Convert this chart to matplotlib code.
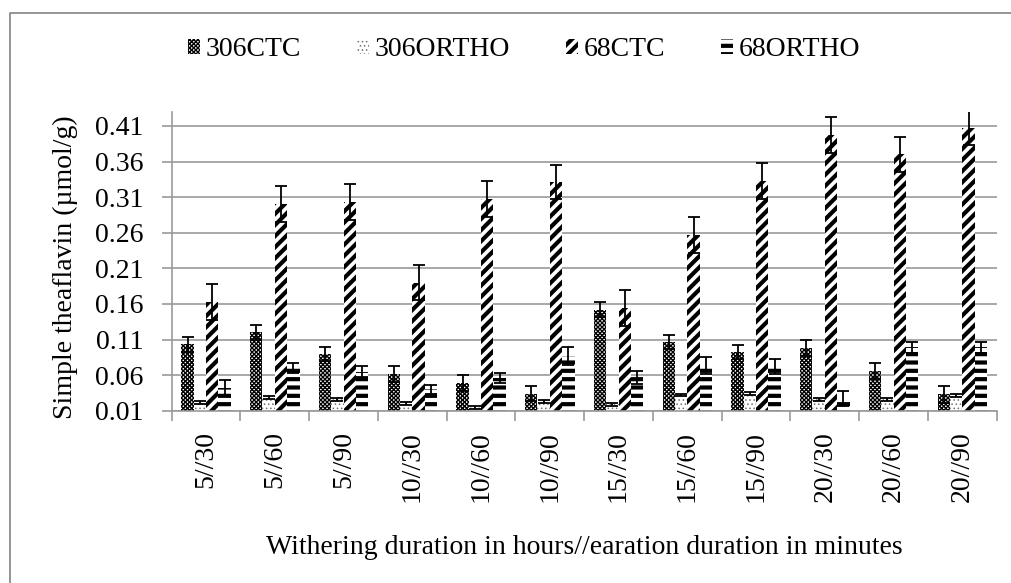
import numpy as np
import matplotlib
matplotlib.use("Agg")
import matplotlib.pyplot as plt
from matplotlib.lines import Line2D

plt.rcParams['font.family'] = ['Liberation Serif', 'DejaVu Serif']

# Withering (h) // aeration (min) combinations
categories = ['5//30', '5//60', '5//90', '10//30', '10//60', '10//90',
              '15//30', '15//60', '15//90', '20//30', '20//60', '20//90']

series_names = ['306CTC', '306ORTHO', '68CTC', '68ORTHO']

ctc_306 = [0.103, 0.120, 0.090, 0.062, 0.049, 0.034, 0.152, 0.106, 0.092, 0.098, 0.066, 0.033]
ctc_306_err = [0.011, 0.010, 0.010, 0.011, 0.011, 0.010, 0.011, 0.010, 0.010, 0.011, 0.011, 0.012]

ortho_306 = [0.021, 0.028, 0.026, 0.020, 0.015, 0.023, 0.019, 0.032, 0.034, 0.026, 0.026, 0.031]
ortho_306_err = [0.002, 0.002, 0.002, 0.002, 0.002, 0.002, 0.002, 0.002, 0.002, 0.002, 0.002, 0.002]

ctc_68 = [0.163, 0.300, 0.303, 0.190, 0.307, 0.331, 0.154, 0.257, 0.333, 0.397, 0.370, 0.407]
ctc_68_err = [0.025, 0.025, 0.025, 0.025, 0.025, 0.024, 0.025, 0.025, 0.025, 0.025, 0.025, 0.024]

ortho_68 = [0.042, 0.070, 0.065, 0.040, 0.056, 0.087, 0.057, 0.074, 0.072, 0.027, 0.099, 0.099]
ortho_68_err = [0.011, 0.007, 0.008, 0.006, 0.007, 0.013, 0.009, 0.012, 0.011, 0.011, 0.008, 0.008]

yticks = [0.01, 0.06, 0.11, 0.16, 0.21, 0.26, 0.31, 0.36, 0.41]

values = [ctc_306, ortho_306, ctc_68, ortho_68]
errors = [ctc_306_err, ortho_306_err, ctc_68_err, ortho_68_err]

# pattern fills (hatch, hatch colour, hatch width)
styles = [('xxxxxxxx', 'black', 1.0),
          ('....', '#707070', 0.6),
          ('///', 'black', 3.0),
          ('--', 'black', 3.0)]

FS = 20
W, H = 1011, 583
fig = plt.figure(figsize=(W / 100, H / 100), dpi=100)
ax = fig.add_axes([171.7 / W, 1 - 410.7 / H, 825 / W, (410.7 - 111.7) / H])

x = np.arange(len(categories))
bw = 0.18
offsets = [-1.5 * bw, -0.5 * bw, 0.5 * bw, 1.5 * bw]

handles = []
for vals, errs, off, (hatch, hcol, hlw), name in zip(values, errors, offsets, styles, series_names):
    with plt.rc_context({'hatch.linewidth': hlw}):
        bars = ax.bar(x + off, vals, bw, facecolor='white', edgecolor=hcol,
                      linewidth=0, hatch=hatch, label=name, zorder=2)
    for b in bars:
        if hasattr(b, 'set_hatch_linewidth'):
            b.set_hatch_linewidth(hlw)
    ax.errorbar(x + off, vals, yerr=errs, fmt='none', ecolor='black',
                elinewidth=1.3, capsize=4, capthick=1.3, zorder=3)
    handles.append(bars)

ax.set_xlim(-0.5, len(categories) - 0.5)
ax.set_ylim(0.01, 0.43)
ax.set_yticks(yticks)
ax.set_yticklabels([f'{t:.2f}' for t in yticks])
ax.set_xticks(x)
ax.set_xticklabels(categories, rotation=90)
ax.set_xticks(np.arange(len(categories) + 1) - 0.5, minor=True)

grid_col = '#9a9a9a'
ax.yaxis.grid(True, color=grid_col, linewidth=1.2, zorder=0)
ax.set_axisbelow(True)
for s in ['top', 'right']:
    ax.spines[s].set_visible(False)
for s in ['left', 'bottom']:
    ax.spines[s].set_color(grid_col)
    ax.spines[s].set_linewidth(1.2)

ax.tick_params(axis='y', which='major', length=7.2, width=1.2, color=grid_col,
               pad=13, labelsize=FS)
ax.tick_params(axis='x', which='major', length=0, pad=14.5, labelsize=FS)
ax.tick_params(axis='x', which='minor', length=7.2, width=1.2, color=grid_col)

fig.text(65 / W, 1 - 267 / H, 'Simple theaflavin (µmol/g)', rotation=90,
         ha='center', va='center', fontsize=FS)
fig.text(584 / W, 1 - 548 / H,
         'Withering duration in hours//earation duration in minutes',
         ha='center', va='center', fontsize=FS)

leg = fig.legend(handles, series_names, loc='center', bbox_to_anchor=(524 / W, 1 - 50 / H),
                 ncol=4, frameon=False, fontsize=FS, handlelength=0.45, handleheight=0.45,
                 handletextpad=0.2, columnspacing=2.0, borderaxespad=0)
for p, (hatch, hcol, hlw) in zip(leg.get_patches(), styles):
    if hasattr(p, 'set_hatch_linewidth'):
        p.set_hatch_linewidth(hlw)

# chart area border (left and top edges)
fig.add_artist(Line2D([10 / W, 10 / W, 1.0], [0.0, 1 - 13 / H, 1 - 13 / H],
                      transform=fig.transFigure, color='#8c8c8c', linewidth=1.3))

fig.savefig('out.png', dpi=100)
